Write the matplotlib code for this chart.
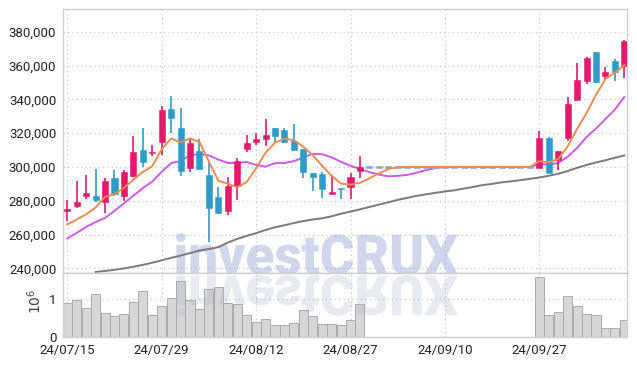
import numpy as np
import matplotlib
matplotlib.use('Agg')
import matplotlib.pyplot as plt
from matplotlib.textpath import TextPath
from matplotlib.patches import PathPatch
from matplotlib.font_manager import FontProperties
from matplotlib.transforms import Affine2D

plt.rcParams['font.family'] = ['Roboto', 'DejaVu Sans']

# ---- data ----
opens = [274000, 276800, 282700, 282700, 279300, 293300, 282700, 294600, 310100, 308000,
         315000, 334500, 323400, 299600, 309500, 295200, 282000, 274000, 288700, 310700,
         315100, 316700, 323000, 322000, 315500, 310700, 296600, 295800, 284100, 287500,
         287900, 297800] + [300000] * 18 + [
         299600, 317400, 304200, 317400, 339900, 351200, 368300, 353700, 363100, 360100]
highs = [280500, 291700, 295000, 298800, 293300, 298200, 298200, 318500, 323000, 313100,
         335900, 341800, 334900, 317100, 316500, 303200, 288300, 293900, 305200, 319100,
         320400, 328400, 323000, 323000, 325600, 310700, 296600, 297200, 295200, 287500,
         296300, 306700] + [300000] * 18 + [
         321400, 318000, 309500, 341500, 361700, 365000, 368300, 359100, 364100, 375000]
lows = [268000, 276000, 280800, 279400, 272800, 282700, 280000, 293900, 299800, 306500,
        307100, 320400, 294800, 296900, 298800, 255500, 272400, 271600, 280400, 309100,
        313100, 312700, 315100, 314500, 309700, 293600, 285700, 281400, 284100, 280800,
        281000, 293300] + [300000] * 18 + [
        299600, 296600, 298200, 315500, 339900, 349400, 349800, 351400, 351200, 352800]
closes = [275000, 279200, 284700, 280400, 291800, 283900, 297200, 309100, 303200, 309000,
          334000, 329300, 297600, 314500, 298800, 275800, 272800, 288700, 303600, 314500,
          316700, 319000, 318500, 315100, 310100, 297200, 294200, 286900, 285300, 287300,
          294000, 299800] + [300000] * 18 + [
          317400, 296600, 309500, 337500, 351800, 364700, 350200, 356400, 356100, 374600]
volume = [0.90, 0.98, 0.76, 1.13, 0.625, 0.545, 0.60, 0.92, 1.21, 0.57,
          0.82, 1.03, 1.48, 0.98, 0.73, 1.27, 1.32, 0.89, 0.87, 0.57,
          0.38, 0.48, 0.30, 0.30, 0.36, 0.71, 0.545, 0.33, 0.33, 0.30,
          0.44, 0.87] + [0.0] * 18 + [
          1.59, 0.57, 0.65, 1.08, 0.81, 0.60, 0.57, 0.22, 0.22, 0.44]
volume = [v * 1e6 for v in volume]

ma5 = [266000, 268900, 272000, 276000, 282220, 284000, 287600, 292480, 297040, 300480,
       310500, 316920, 314620, 316880, 314840, 303200, 291900, 290120, 287940, 291080,
       299260, 308500, 314460, 316760, 315880, 311980, 307020, 300700, 294740, 290180,
       289540, 290660, 293280, 296220, 298760, 299960] + [300000] * 14 + [
       303480, 302800, 304700, 312200, 322560, 332020, 342740, 352120, 355840, 360400]
ma10 = [257700, 260900, 264500, 267400, 269800, 274000, 278500, 283000, 287500, 291350,
        297250, 302260, 303550, 306960, 307660, 306850, 304410, 302370, 302410, 302960,
        301230, 300200, 302290, 302350, 303480, 305620, 307760, 307580, 305750, 303030,
        300760, 298840, 296990, 295480, 294470, 294750, 295330, 296640, 298110, 299380,
        299980] + [300000] * 9 + [
        301740, 301400, 302350, 306100, 311280, 317750, 322770, 328410, 334020, 341480]
ma60 = [np.nan] * 3 + [
        237800, 238400, 239100, 239900, 240900, 242000, 243300,
        244700, 246200, 247500, 249000, 250500, 251400, 252500, 255200, 257400, 259200,
        260800, 262700, 264300, 265500, 266800, 268000, 268900, 269600, 270800, 272300,
        273600, 274900, 276300, 277700, 279100, 280500, 281700, 282900, 283800, 284700,
        285500, 286200, 287200, 288200, 289300, 290000, 290900, 291500, 292200, 293000,
        293800, 294800, 296000, 297600, 299500, 301200, 302700, 304000, 305500, 306800]

tick_days = [0, 10, 20, 30, 40, 50]
tick_labels = ['24/07/15', '24/07/29', '24/08/12', '24/08/27', '24/09/10', '24/09/27']
price_ticks = list(range(240000, 380001, 20000))

up_col = '#e5196b'
down_col = '#2f9bcb'
flat_col = '#86a9c8'
grid_col = '#c3c7da'
spine_col = '#cfcfcf'

x = np.arange(len(closes))
o = np.array(opens); c = np.array(closes); h = np.array(highs); l = np.array(lows)
cols = [up_col if cc > oo else (down_col if cc < oo or hh > ll else flat_col)
        for oo, cc, hh, ll in zip(o, c, h, l)]

fig = plt.figure(figsize=(6.37, 3.66), dpi=100)
ax = fig.add_axes([0.0994, 0.2549, 0.8854, 0.7197])
axv = fig.add_axes([0.0994, 0.0801, 0.8854, 0.1749], sharex=ax)

# watermark + reflection
fp = FontProperties(family=['Roboto', 'DejaVu Sans'], weight='black')
tp = TextPath((0, 0), 'investCRUX', size=100, prop=fp)
bb = tp.get_extents()
sx = 282 / bb.width
sy = 42 / bb.height
base = 366 - 275
tr_top = Affine2D().translate(-bb.x0, -bb.y0).scale(sx, sy).translate(176, base)
tr_ref = Affine2D().translate(-bb.x0, -bb.y0).scale(sx, -sy).translate(176, base)
ax.add_patch(PathPatch(tp, transform=tr_top, facecolor='#9eaad6', edgecolor='none',
                       alpha=0.48, zorder=1))
axv.add_patch(PathPatch(tp, transform=tr_ref, facecolor='#a7acc8', edgecolor='none',
                        alpha=0.25, zorder=4))

# moving averages
ax.plot(x, ma60, color='#7a7a7a', lw=1.4, zorder=2)
ax.plot(x, ma10, color='#cf58ea', lw=1.4, zorder=2)
ax.plot(x, ma5, color='#f08a4e', lw=1.4, zorder=4)

# candles
ax.vlines(x, l, h, colors=cols, lw=1.2, zorder=3)
body_h = np.maximum(np.abs(c - o), 900)
body_b = (o + c) / 2 - body_h / 2
ax.bar(x, body_h, bottom=body_b, width=0.64, color=cols, edgecolor=cols, lw=0.4, zorder=3)

# volume
axv.bar(x, volume, width=0.96, color='#d7d7d9', edgecolor='#ababab', lw=0.7, zorder=2)

ax.set_xlim(-0.42, 59.32)
ax.set_ylim(237370, 393440)
axv.set_ylim(0, 1.71e6)

ax.set_yticks(price_ticks)
ax.set_yticklabels([f'{v:,}' for v in price_ticks])
axv.set_yticks([0, 1e6])
axv.set_yticklabels(['0', '1'])
axv.set_xticks(tick_days)
axv.set_xticklabels(tick_labels)
plt.setp(ax.get_xticklabels(), visible=False)

for a in (ax, axv):
    a.grid(True, linestyle=(0, (1, 2.5)), color=grid_col, lw=0.9, zorder=0)
    a.set_axisbelow(True)
    a.tick_params(length=0, labelsize=9.5, colors='#222222', pad=5)
    for s in a.spines.values():
        s.set_color(spine_col)
        s.set_linewidth(1)

fig.text(35 / 637, 1 - 301 / 366, r'$10^6$', rotation=90, ha='center', va='center',
         fontsize=10, color='#444444')

fig.savefig('out.png', dpi=100)
